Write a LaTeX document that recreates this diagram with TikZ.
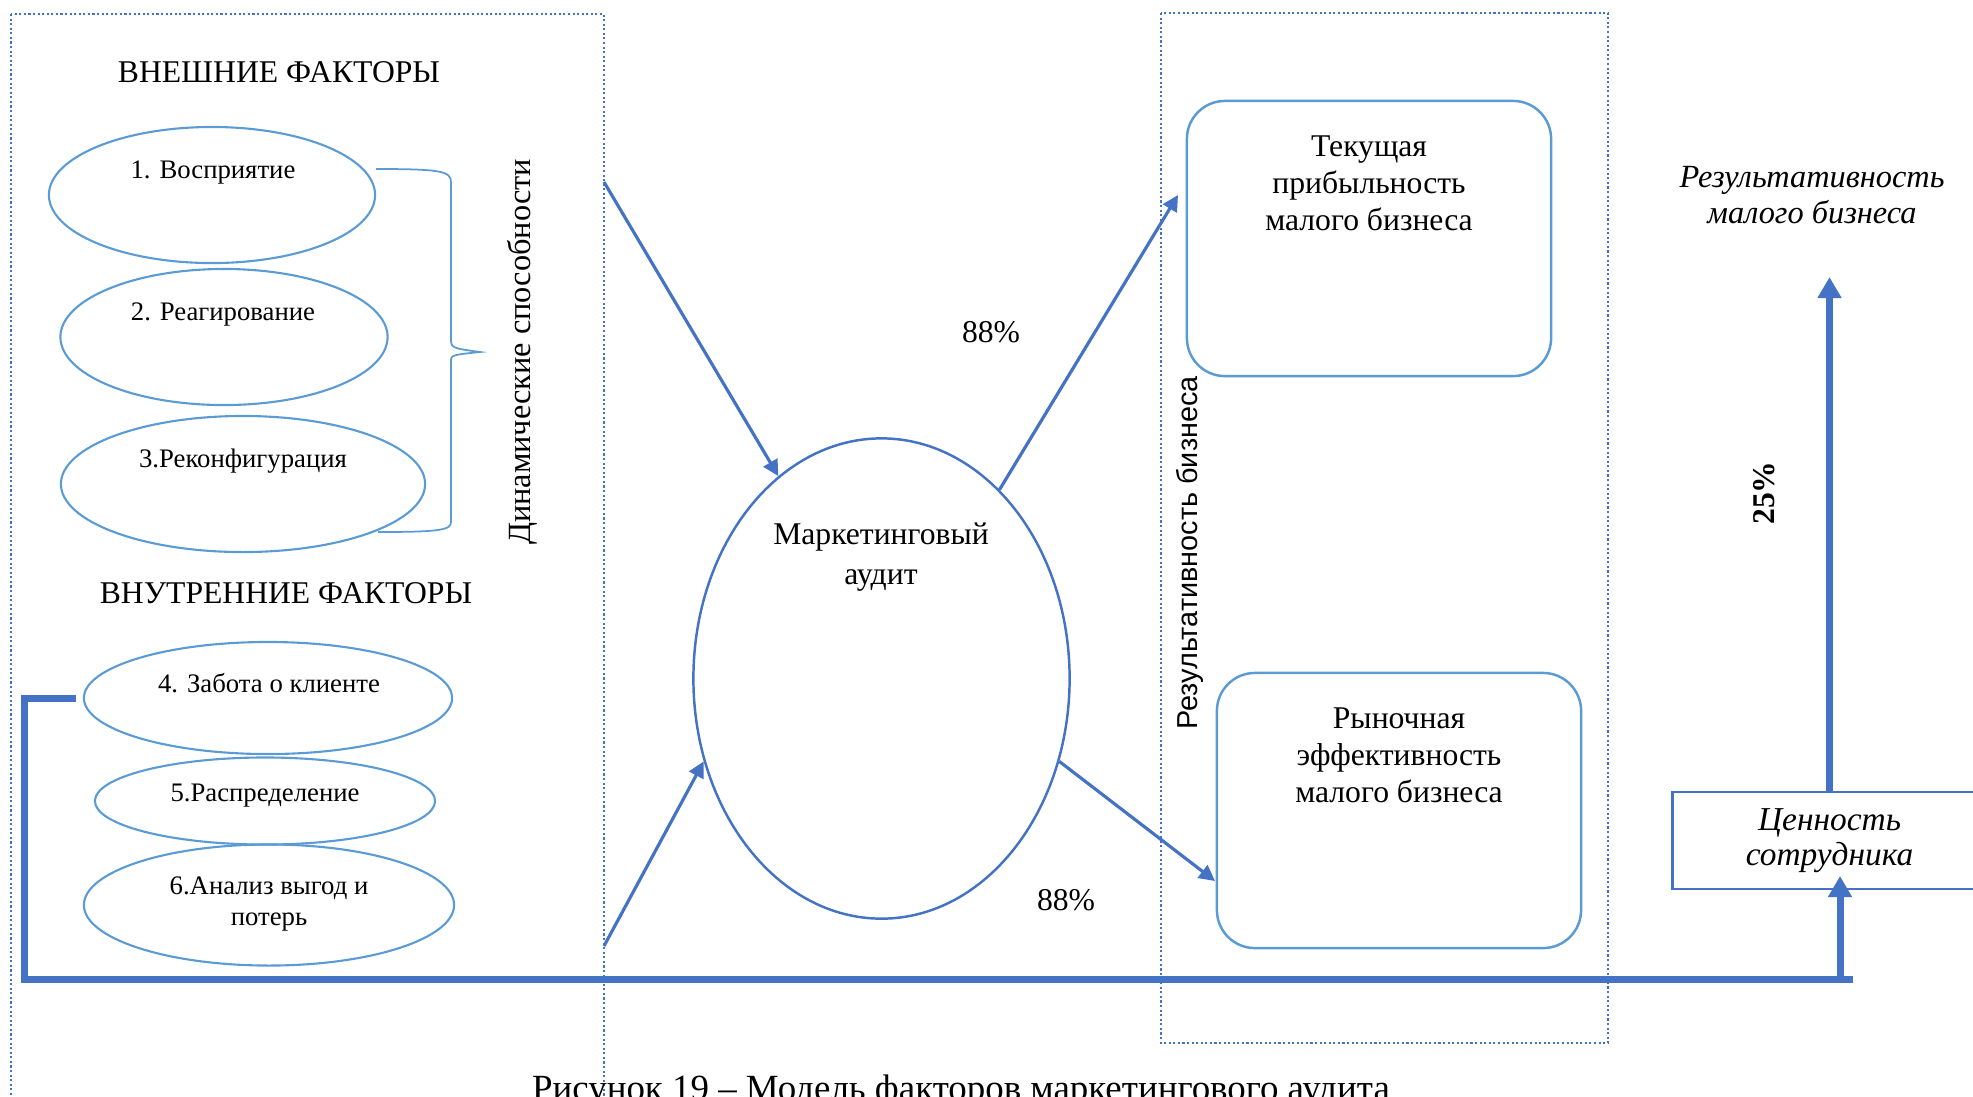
\documentclass[tikz,border=0pt]{standalone}
\usepackage{fontspec}
\setmainfont{Liberation Serif}
\newfontfamily\labelsans{Liberation Sans}
\usetikzlibrary{shapes.geometric, arrows.meta, calc}
\definecolor{OffBlue}{HTML}{4472C4}
\definecolor{OffLight}{HTML}{5B9BD5}

\begin{document}
\begin{tikzpicture}[x=0.01cm, y=-0.01cm,
          factor/.style={ellipse, draw=OffLight, line width=0.6pt, inner sep=0pt},
          ftext/.style={font=\fontsize{7.6pt}{8.8pt}\selectfont, align=center, inner sep=0pt},
          head/.style={font=\fontsize{9pt}{10.5pt}\selectfont, inner sep=0pt},
          result/.style={rectangle, rounded corners=0.38cm, draw=OffLight, line width=0.7pt,
                         minimum width=3.64cm, minimum height=2.75cm},
          btext/.style={font=\fontsize{9pt}{10.5pt}\selectfont, align=center, inner sep=0pt},
          frame/.style={draw=OffBlue, line width=0.6pt, dash pattern=on 0.6pt off 0.7pt},
          arr/.style={-{Triangle[width=4.5pt,length=4.5pt]}, OffBlue, line width=0.9pt},
          bus/.style={OffBlue, line width=2pt},
          busarr/.style={-{Triangle[width=6.5pt,length=6pt]}, OffBlue, line width=2pt}
        ]
        \useasboundingbox (0,0) rectangle (1973,1096);
        \clip (0,0) rectangle (1973,1096);

        % Frames
        \draw[frame] (11,14) rectangle (604,1120);
        \draw[frame] (1161,13) rectangle (1608,1043);

        % External factors
        \node[head] (ext) at (279,72) {ВНЕШНИЕ ФАКТОРЫ};
        \node[factor, minimum width=3.26cm, minimum height=1.36cm] (f1) at (212,195) {};
        \node[factor, minimum width=3.27cm, minimum height=1.36cm] (f2) at (224,337) {};
        \node[factor, minimum width=3.64cm, minimum height=1.36cm] (f3) at (243,484) {};
        \node[ftext] (t1) at (213,173) {1. Восприятие};
        \node[ftext] (t2) at (223,314) {2. Реагирование};
        \node[ftext] (t3) at (243,461) {3.Реконфигурация};

        % Brace
        \draw[OffLight, line width=0.5pt] (376,169) .. controls (440,169) and (451,171) .. (451,182)
              -- (451,338) .. controls (451,348) .. (480,352)
              .. controls (451,355) .. (451,362) -- (451,522)
              .. controls (451,530) and (440,532) .. (378,532);
        \node[head, font=\fontsize{9.2pt}{11pt}\selectfont, rotate=90] (dyn) at (522,352) {Динамические способности};

        % Internal factors
        \node[head] (int) at (286,593) {ВНУТРЕННИЕ ФАКТОРЫ};
        \node[factor, minimum width=3.68cm, minimum height=1.12cm] (f4) at (268,698) {};
        \node[factor, minimum width=3.40cm, minimum height=0.87cm] (f5) at (265,801) {};
        \node[factor, minimum width=3.70cm, minimum height=1.21cm] (f6) at (269,905) {};
        \node[ftext] (t4) at (269,683) {4. Забота о клиенте};
        \node[ftext] (t5) at (265,796) {5.Распределение};
        \node[ftext] (t6) at (269,904) {6.Анализ выгод и\\потерь};

        % Audit
        \node[ellipse, draw=OffBlue, line width=0.7pt, inner sep=0pt,
              minimum width=3.76cm, minimum height=4.80cm] (audit) at (881.5,678.5) {};
        \node[btext, font=\fontsize{9pt}{11.2pt}\selectfont] (ta) at (881,557) {Маркетинговый\\аудит};

        % Results
        \node[result] (box1) at (1369,238.5) {};
        \node[result] (box2) at (1399,810.5) {};
        \node[btext] (tb1) at (1369,183) {Текущая\\прибыльность\\малого бизнеса};
        \node[btext] (tb2) at (1399,755) {Рыночная\\эффективность\\малого бизнеса};
        \node[font=\labelsans\fontsize{8.2pt}{10pt}\selectfont, rotate=90, inner sep=0pt] (perf) at (1190,553) {Результативность бизнеса};

        \node[btext, font=\itshape\fontsize{9.2pt}{10.1pt}\selectfont] (res) at (1812,195) {Результативность\\малого бизнеса};
        \node[rectangle, draw=OffBlue, line width=0.8pt, minimum width=3.14cm, minimum height=0.97cm,
              align=center, font=\itshape\fontsize{9.5pt}{10.1pt}\selectfont] (val) at (1829.5,840.5) {Ценность\\сотрудника};

        % Arrows through audit
        \coordinate (in1) at (604,182);
        \coordinate (in2) at (604,946);
        \coordinate (out1) at (1178,195);
        \coordinate (out2) at (1215,881);
        \draw[arr] (in1) -- (audit.117);
        \draw[arr] (in2) -- (audit.205);
        \draw[arr] (audit.58) -- (out1);
        \draw[arr] (audit.-25) -- (out2);
        \node[btext] (p1) at (991,332) {88\%};
        \node[btext] (p2) at (1066,900) {88\%};

        % Feedback line
        \coordinate (corner) at (24.5,979);
        \coordinate (busend) at (1853,979);
        \coordinate (busjoin) at (1840,979);
        \coordinate (valin) at (1840,876);
        \coordinate (restop) at (1829.5,277);
        \draw[bus] ([xshift=-2pt]f4.west) -| (corner) -- (busend);
        \draw[busarr] (busjoin) -- (valin);
        \draw[busarr] (val.north) -- (restop);
        \node[btext, font=\bfseries\fontsize{9pt}{10pt}\selectfont, rotate=90] (p3) at (1764,493) {25\%};

        % Caption
        \node[font=\fontsize{10.5pt}{12pt}\selectfont, anchor=base, inner sep=0pt] (cap) at (961,1100)
              {Рисунок 19 – Модель факторов маркетингового аудита};
      \end{tikzpicture}
\end{document}
